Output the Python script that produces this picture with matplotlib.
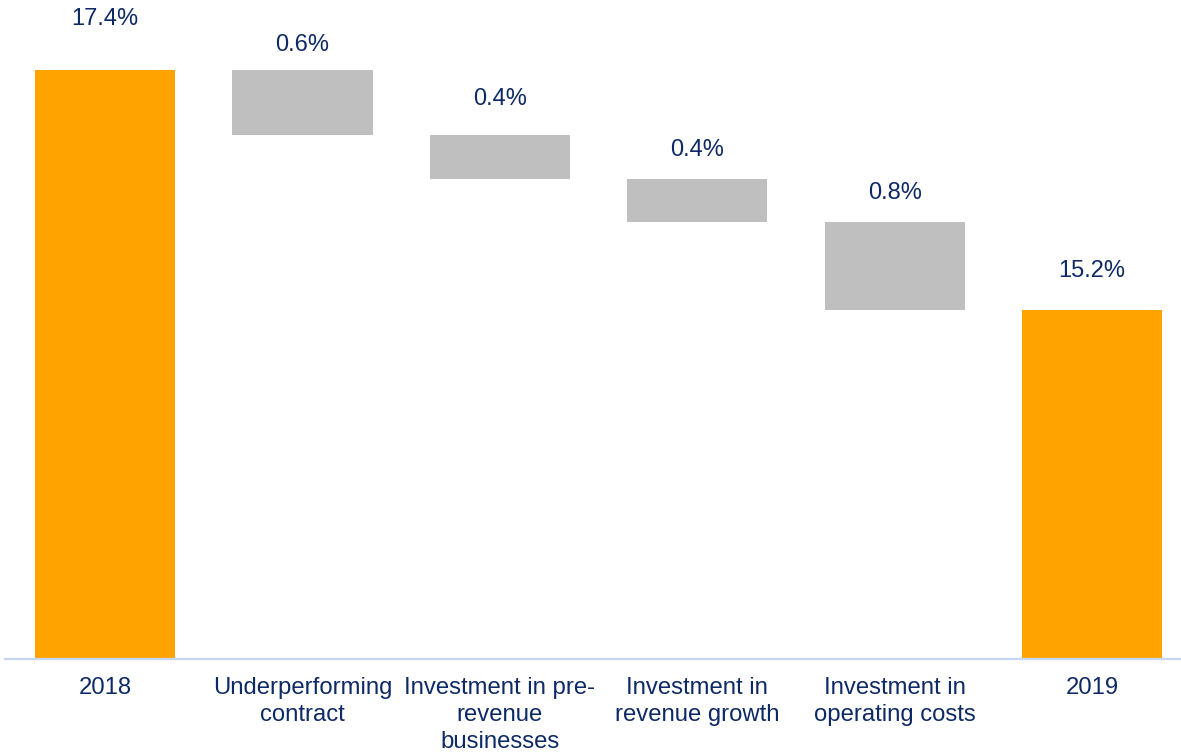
import matplotlib
matplotlib.use("Agg")
import matplotlib.pyplot as plt

# Data
categories = ["2018", "Underperforming\ncontract", "Investment in pre-\nrevenue\nbusinesses",
              "Investment in\nrevenue growth", "Investment in\noperating costs", "2019"]
start_value = 17.4
changes = [-0.6, -0.4, -0.4, -0.8]
end_value = 15.2
axis_min = 12.0

# style
orange = "#FFA300"
gray = "#BFBFBF"
text_color = "#0E2A66"
label_offsets_px = [51, 25, 36, 29, 29, 39]  # label center above bar top

plt.rcParams["font.family"] = ["Liberation Sans", "DejaVu Sans"]

fig = plt.figure(figsize=(11.81, 7.53), dpi=100)
ax = fig.add_axes([5 / 1181, 1 - 658.5 / 753, 1 - 5 / 1181, 658.5 / 753])

bottoms, heights, colors, tops, labels = [], [], [], [], []
# start bar
bottoms.append(axis_min); heights.append(start_value - axis_min); colors.append(orange)
tops.append(start_value); labels.append(f"{start_value:.1f}%")
level = start_value
for c in changes:
    new = level + c
    bottoms.append(min(level, new)); heights.append(abs(c)); colors.append(gray)
    tops.append(max(level, new)); labels.append(f"{abs(c):.1f}%")
    level = new
bottoms.append(axis_min); heights.append(end_value - axis_min); colors.append(orange)
tops.append(end_value); labels.append(f"{end_value:.1f}%")

x = list(range(len(categories)))
ax.bar(x, heights, bottom=bottoms, width=0.71, color=colors, edgecolor="none", zorder=2)

for xi, t, lab, off in zip(x, tops, labels, label_offsets_px):
    ax.annotate(lab, (xi, t), xytext=(0, off), textcoords="offset pixels",
                ha="center", va="center", fontsize=17, color=text_color, annotation_clip=False)

ax.set_xlim(-0.507, 5.451)
ax.set_ylim(axis_min, 18.04)
ax.set_xticks(x)
ax.set_xticklabels(categories, fontsize=17.2, color=text_color, linespacing=1.3)
ax.tick_params(axis="x", length=0, pad=13)
ax.set_yticks([])
for s in ["top", "right", "left"]:
    ax.spines[s].set_visible(False)
ax.spines["bottom"].set_color("#C6D6F5")
ax.spines["bottom"].set_linewidth(1.6)
ax.set_facecolor("none")

fig.savefig("out.png", dpi=100)
